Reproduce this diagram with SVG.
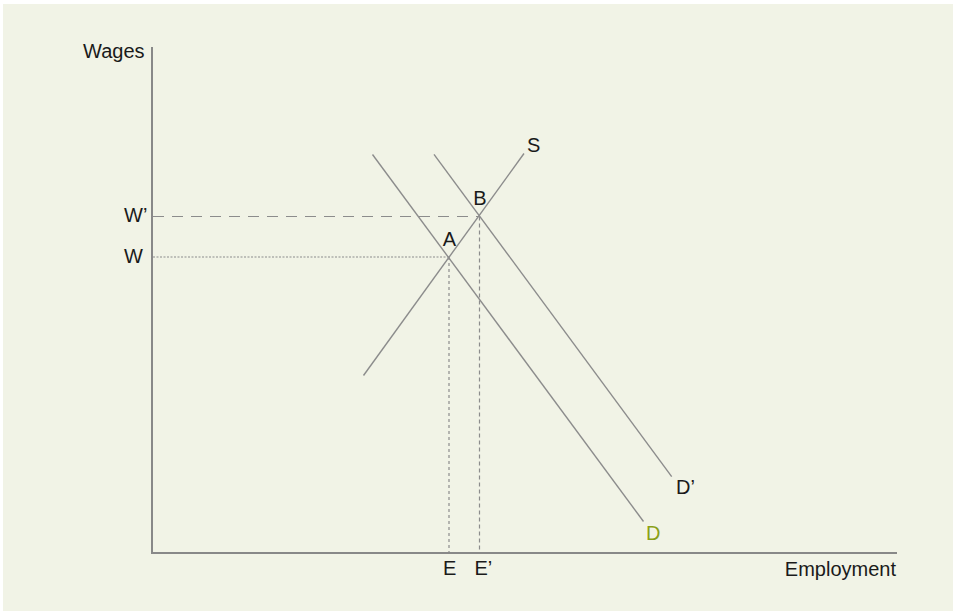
<svg xmlns="http://www.w3.org/2000/svg" width="953" height="611" viewBox="0 0 953 611">
<style>
.lbl{font-family:"Liberation Sans",Arial,sans-serif;font-size:20px;fill:#1a1a1a}
.axis{stroke:#888;stroke-width:2;fill:none}
.curve{stroke:#8c8c8c;stroke-width:1.4;fill:none}
.guide{stroke:#8c8c8c;stroke-width:1.2;fill:none}
</style>
<rect x="0" y="0" width="953" height="611" fill="#ffffff"/>
<rect x="3" y="4" width="950" height="607" fill="#f1f3e6"/>
<g id="connectors">
<line class="guide" x1="153" y1="216.5" x2="479.5" y2="216.5" stroke-dasharray="11 8"/>
<line class="guide" x1="153" y1="257" x2="449" y2="257" stroke-width="1" stroke-dasharray="2 1.5"/>
<line class="guide" x1="449" y1="257" x2="449" y2="552" stroke-width="1" stroke-dasharray="3 3"/>
<line class="guide" x1="479.5" y1="216.5" x2="479.5" y2="552" stroke-width="1" stroke-dasharray="4 3"/>
<line id="S-line" class="curve" x1="363.5" y1="375.5" x2="524" y2="153.5"/>
<line id="D-line" class="curve" x1="372.5" y1="154.5" x2="643.5" y2="521.5"/>
<line id="Dp-line" class="curve" x1="434" y1="154.3" x2="671.7" y2="476.7"/>
</g>
<g id="axes">
<line class="axis" x1="152" y1="47" x2="152" y2="553"/>
<line class="axis" x1="151" y1="553" x2="897" y2="553"/>
</g>
<g id="label-wages"><text class="lbl" x="83" y="58">Wages</text></g>
<g id="label-employment"><text class="lbl" x="896" y="576" text-anchor="end">Employment</text></g>
<g id="label-Wp"><text class="lbl" x="124" y="222">W’</text></g>
<g id="label-W"><text class="lbl" x="124" y="263">W</text></g>
<g id="label-A"><text class="lbl" x="449.5" y="246" text-anchor="middle">A</text></g>
<g id="label-B"><text class="lbl" x="480" y="205" text-anchor="middle">B</text></g>
<g id="label-S"><text class="lbl" x="527" y="151.5">S</text></g>
<g id="label-Dp"><text class="lbl" x="676" y="494">D’</text></g>
<g id="label-D"><text class="lbl" x="646" y="540" style="fill:#8aa017">D</text></g>
<g id="label-E"><text class="lbl" x="443" y="575">E</text></g>
<g id="label-Ep"><text class="lbl" x="474.5" y="575">E’</text></g>
</svg>
